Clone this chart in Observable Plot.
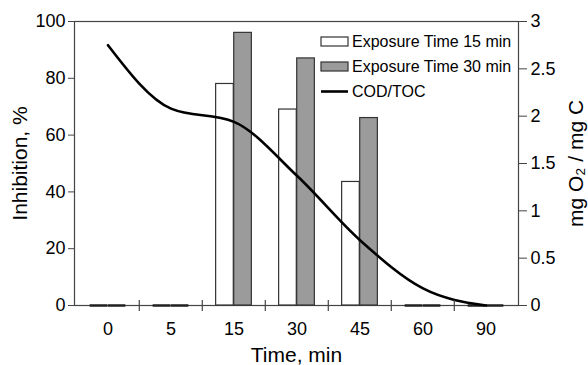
<!DOCTYPE html>
<html>
<head>
<meta charset="utf-8">
<script src="https://cdn.jsdelivr.net/npm/d3@7"></script>
<script src="https://cdn.jsdelivr.net/npm/@observablehq/plot@0.6"></script>
<style>
  html, body { margin: 0; padding: 0; background: #fff; }
  svg { font-family: "Liberation Sans", Arial, sans-serif; }
  svg g[aria-label="x-axis label"], svg g[aria-label="y-axis label"] { font-size: 21px; }
  svg g[aria-label="x-axis label"] text, svg g[aria-label="y-axis label"] text { font-size: 21px; }
</style>
</head>
<body>
<div id="chart"></div>
<script>
// ---- data ----
const categories = ["0", "5", "15", "30", "45", "60", "90"];
const exposure15 = [0, 0, 78, 69, 43.5, 0, 0];      // Inhibition, %
const exposure30 = [0, 0, 96, 87, 66, 0, 0];        // Inhibition, %
const codToc = [2.75, 2.08, 1.94, 1.37, 0.69, 0.18, 0.0]; // mg O2 / mg C
const leftTicks = [0, 20, 40, 60, 80, 100];
const rightTicks = [0, 0.5, 1, 1.5, 2, 2.5, 3];
const seriesNames = ["Exposure Time 15 min", "Exposure Time 30 min", "COD/TOC"];

// ---- layout ----
const W = 588, H = 365;
const mL = 74, mR = 70, mT = 21, mB = 60;
const bw = (W - mL - mR) / categories.length;
const outer = bw * 0.215, barW = (bw - 2 * outer) / 2;
const rightMax = 3, leftMax = 100;
const toLeft = v => v * leftMax / rightMax;

const rows15 = categories.map((c, i) => ({cat: c, v: exposure15[i]}));
const rows30 = categories.map((c, i) => ({cat: c, v: exposure30[i]}));
const rowsLine = categories.map((c, i) => ({cat: c, v: toLeft(codToc[i])}));
const gray = "#9b9b9b";

const plot = Plot.plot({
  width: W, height: H,
  marginLeft: mL, marginRight: mR, marginTop: mT, marginBottom: mB,
  style: {fontFamily: "Liberation Sans, Arial, sans-serif", fontSize: "18px", color: "#000", background: "#fff"},
  x: {type: "band", domain: categories, padding: 0},
  y: {domain: [0, leftMax]},
  marks: [
    Plot.frame({stroke: "#444", strokeWidth: 1.2}),
    Plot.barY(rows15.filter(d => d.v > 0), {x: "cat", y: "v", fill: "#fff", stroke: "#333", strokeWidth: 1.2,
      insetLeft: outer, insetRight: outer + barW}),
    Plot.barY(rows30.filter(d => d.v > 0), {x: "cat", y: "v", fill: gray, stroke: "#333", strokeWidth: 1.2,
      insetLeft: outer + barW, insetRight: outer}),
    Plot.tickY(rows15.filter(d => d.v === 0), {x: "cat", y: "v", stroke: "#222", strokeWidth: 2.5,
      insetLeft: outer, insetRight: outer + barW}),
    Plot.tickY(rows30.filter(d => d.v === 0), {x: "cat", y: "v", stroke: "#222", strokeWidth: 2.5,
      insetLeft: outer + barW, insetRight: outer}),
    Plot.line(rowsLine, {x: "cat", y: "v", curve: "monotone-x", stroke: "#000", strokeWidth: 2.6}),
    // x-axis separator ticks between categories
    Plot.ruleX(categories.slice(1), {x: d => d, dx: -bw / 2, stroke: "#444", strokeWidth: 1.2,
      insetTop: (H - mT - mB) - 5, insetBottom: -6}),
    Plot.axisX({tickSize: 0, tickPadding: 17, fontSize: 18, label: "Time, min", labelAnchor: "center",
      labelArrow: "none", labelOffset: 56}),
    Plot.axisY({anchor: "left", ticks: leftTicks, tickSize: 6, tickPadding: 3, fontSize: 18,
      stroke: "#444", label: "Inhibition, %", labelAnchor: "center", labelArrow: "none", labelOffset: 62}),
    Plot.axisY({anchor: "right", ticks: rightTicks.map(toLeft), tickFormat: v => d3.format("")(+(v * rightMax / leftMax).toFixed(2)),
      tickSize: 8, tickPadding: 4, fontSize: 18, stroke: "#444",
      label: "mg O\u2082 / mg C", labelAnchor: "center", labelArrow: "none", labelOffset: 64})
  ]
});

document.getElementById("chart").appendChild(plot);

// ---- legend inside the plot (top right) ----
const svg = d3.select(plot);
const lg = svg.append("g").attr("font-size", 16).attr("text-anchor", "start")
  .attr("font-family", "Liberation Sans, Arial, sans-serif");
const lx = 321, ly = [41.5, 66.5, 91.5];
lg.append("rect").attr("x", lx).attr("y", ly[0] - 4.5).attr("width", 27).attr("height", 9)
  .attr("fill", "#fff").attr("stroke", "#333").attr("stroke-width", 1.2);
lg.append("rect").attr("x", lx).attr("y", ly[1] - 4.5).attr("width", 27).attr("height", 9)
  .attr("fill", gray).attr("stroke", "#333").attr("stroke-width", 1.2);
lg.append("line").attr("x1", lx).attr("x2", lx + 27).attr("y1", ly[2]).attr("y2", ly[2])
  .attr("stroke", "#000").attr("stroke-width", 2.6);
seriesNames.forEach((name, i) => {
  lg.append("text").attr("x", lx + 31).attr("y", ly[i]).attr("dy", "0.36em")
    .attr("text-anchor", "start").attr("fill", "#000").text(name);
});
</script>
</body>
</html>
